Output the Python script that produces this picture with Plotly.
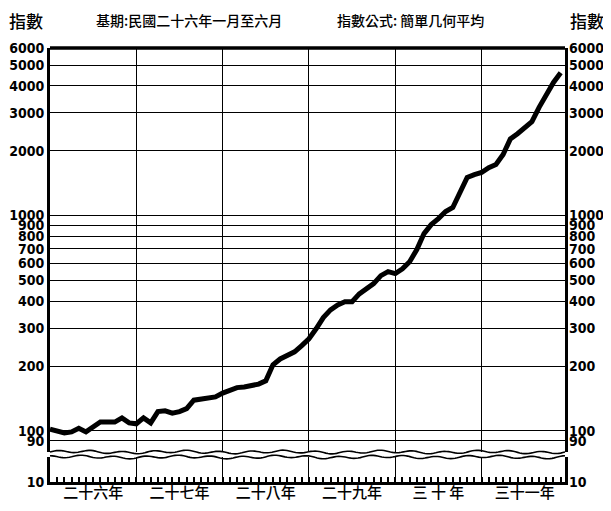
import numpy as np
import plotly.graph_objects as go

# ---- data ----
months = list(range(72))  # 民國二十六年一月 .. 三十一年十二月
index_values = [102, 100, 98, 99, 103, 99, 105, 110, 110, 110, 115, 109,
                108, 115, 109, 123, 124, 121, 123, 127, 139, 141, 142, 144,
                150, 155, 159, 160, 162, 165, 171, 203, 216, 226, 233, 249,
                268, 298, 336, 365, 385, 398, 398, 433, 458, 483, 526, 549,
                538, 566, 611, 695, 825, 908, 968, 1044, 1090, 1265, 1504, 1550,
                1585, 1670, 1725, 1920, 2270, 2400, 2580, 2730, 3180, 3660, 4150, 4600]
y_ticks = [90, 100, 200, 300, 400, 500, 600, 700, 800, 900, 1000, 2000, 3000, 4000, 5000, 6000]
y_ticktext = [str(v) for v in y_ticks]
lower_ticks = [0]
lower_ticktext = ["10"]
year_bounds = [12, 24, 36, 48, 60]
year_label_pos = [6, 18, 30, 42, 54, 66]
year_labels = ["二十六年", "二十七年", "二十八年", "二十九年", "三 十 年", "三十一年"]

X_RANGE = [0, 71.6]
Y_RANGE = [1.9023, 3.778]
MAIN_DOMAIN = [0.0691, 1]
LOWER_DOMAIN = [0, 0.0576]

num_font = dict(family="DejaVu Sans Condensed, Liberation Sans Narrow, sans-serif",
                size=14, color="black", weight="bold")
cjk = "Noto Sans CJK TC, Noto Sans CJK SC, sans-serif"

fig = go.Figure()
fig.add_trace(go.Scatter(x=months, y=index_values, mode="lines",
                         line=dict(color="black", width=5),
                         xaxis="x", yaxis="y", hoverinfo="skip", showlegend=False))
# helper invisible traces so that all subplots / overlay axes render
for xa, ya, yv in [("x", "y2", 0.5), ("x2", "y2", 0.5), ("x", "y3", 100), ("x", "y4", 0.5)]:
    fig.add_trace(go.Scatter(x=[1], y=[yv], mode="markers", marker=dict(opacity=0),
                             xaxis=xa, yaxis=ya, showlegend=False, hoverinfo="skip"))

fig.update_layout(
    width=603, height=503, autosize=False,
    margin=dict(l=42, r=46, t=40, b=29, autoexpand=False),
    paper_bgcolor="white", plot_bgcolor="white",
    xaxis=dict(anchor="y2", range=X_RANGE, tickmode="array", tickvals=year_bounds,
               showticklabels=False, ticks="", showgrid=True, gridcolor="black",
               gridwidth=1.4, zeroline=False, showline=True, linecolor="black",
               linewidth=3, automargin=False,
               minor=dict(tickmode="array", tickvals=months[1:], ticks="inside",
                          ticklen=5, tickwidth=1.5, tickcolor="black", showgrid=False)),
    xaxis2=dict(overlaying="x", anchor="y2", side="bottom", range=X_RANGE,
                tickmode="array", tickvals=year_label_pos, ticktext=year_labels,
                ticks="", showgrid=False, zeroline=False, showline=False, automargin=False,
                tickfont=dict(family=cjk, size=15, color="black", weight=500)),
    yaxis=dict(type="log", domain=MAIN_DOMAIN, range=Y_RANGE, anchor="x",
               tickmode="array", tickvals=y_ticks, ticktext=y_ticktext,
               showgrid=True, gridcolor="black", gridwidth=1.4, zeroline=False,
               showline=True, linecolor="black", linewidth=3, mirror=True,
               ticks="", tickfont=num_font, automargin=False),
    yaxis3=dict(type="log", overlaying="y", side="right", range=Y_RANGE, anchor="x",
                tickmode="array", tickvals=y_ticks, ticktext=y_ticktext, ticklabelstandoff=3,
                showgrid=False, zeroline=False, ticks="", tickfont=num_font, automargin=False),
    yaxis2=dict(domain=LOWER_DOMAIN, range=[0, 1], anchor="x",
                tickmode="array", tickvals=lower_ticks, ticktext=lower_ticktext,
                showgrid=False, zeroline=False, showline=True, linecolor="black",
                linewidth=3, mirror=True, ticks="", tickfont=num_font, automargin=False),
    yaxis4=dict(overlaying="y2", side="right", range=[0, 1], anchor="x",
                tickmode="array", tickvals=lower_ticks, ticktext=lower_ticktext, ticklabelstandoff=3,
                showgrid=False, zeroline=False, ticks="", tickfont=num_font, automargin=False),
)

# top border
fig.add_shape(type="line", xref="x domain", yref="y domain", x0=0, x1=1, y0=1, y1=1,
              line=dict(color="black", width=3.5))

# wavy break lines
def wave(base, phase):
    xs = np.linspace(0, 1, 240)
    ys = base + 0.0028 * np.sin(2 * np.pi * 16 * xs + phase) + 0.0015 * np.sin(2 * np.pi * 5 * xs)
    return "M " + " L ".join(f"{a:.4f},{b:.4f}" for a, b in zip(xs, ys))

fig.add_shape(type="path", xref="x domain", yref="paper", path=wave(MAIN_DOMAIN[0], 0.0),
              line=dict(color="black", width=1.6))
fig.add_shape(type="path", xref="x domain", yref="paper", path=wave(LOWER_DOMAIN[1], 1.7),
              line=dict(color="black", width=1.6))

# header texts
headers = [("指數", -0.047, 17), ("基期:民國二十六年一月至六月", 0.27, 14),
           ("指數公式: 簡單几何平均", 0.70, 14), ("指數", 1.043, 17)]
for txt, xp, sz in headers:
    fig.add_annotation(text=txt, xref="paper", yref="paper", x=xp, y=1.064,
                       xanchor="center", yanchor="middle", showarrow=False,
                       font=dict(family=cjk, size=sz, color="black", weight=500))

fig.write_html("out.html")
